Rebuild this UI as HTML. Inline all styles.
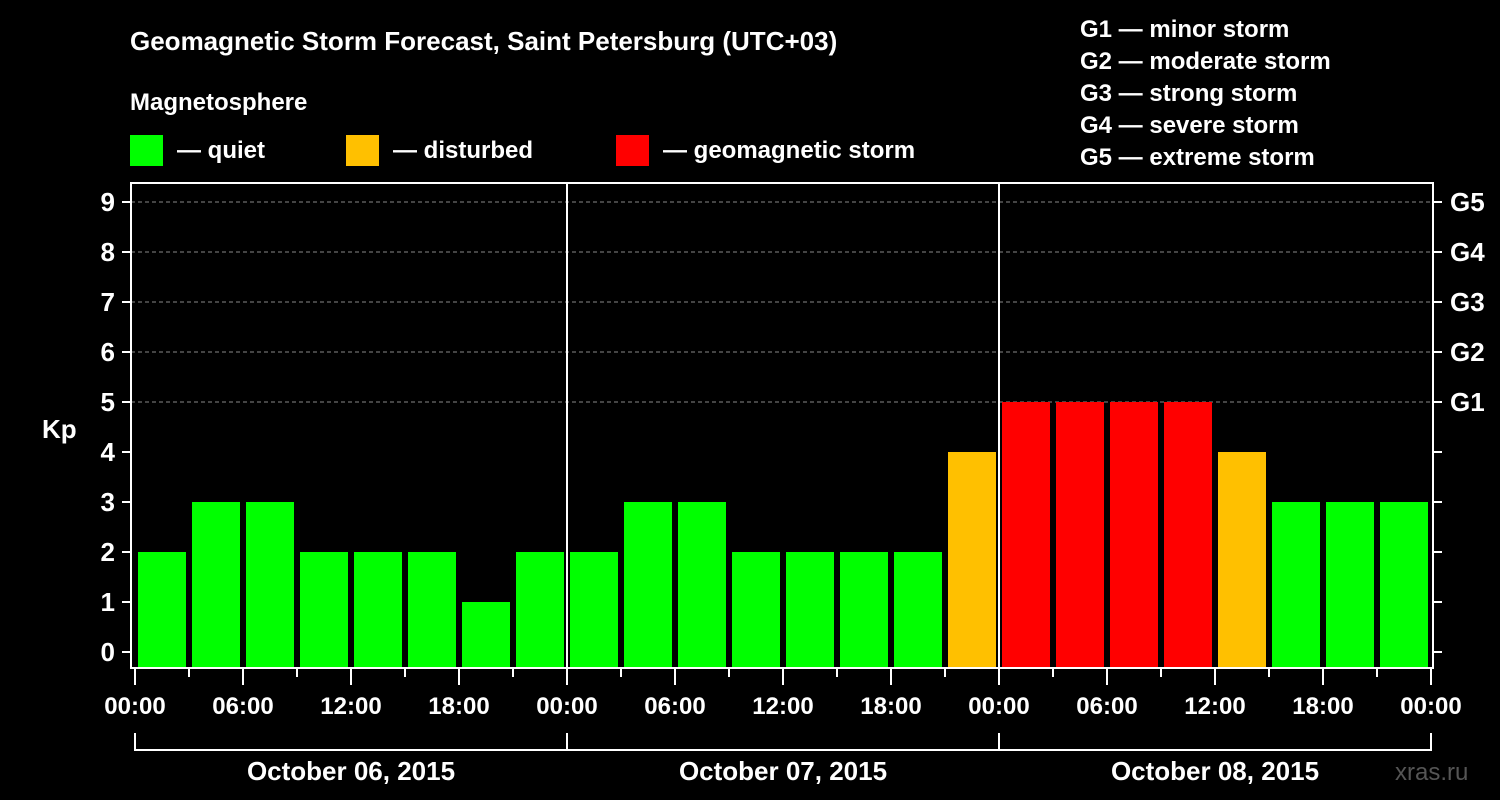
<!DOCTYPE html>
<html><head><meta charset="utf-8"><style>
html,body{margin:0;padding:0;background:#000;}
svg{display:block;font-family:"Liberation Sans",sans-serif;font-weight:bold;}
</style></head><body>
<svg id="chart" width="1500" height="800" viewBox="0 0 1500 800">
<rect width="1500" height="800" fill="#000"/>
<text x="130" y="50" fill="#fff" font-size="26">Geomagnetic Storm Forecast, Saint Petersburg (UTC+03)</text>
<text x="130" y="110" fill="#fff" font-size="24">Magnetosphere</text>
<rect x="130" y="135" width="33" height="31" fill="#00ff00"/>
<text x="177" y="158" fill="#fff" font-size="24">— quiet</text>
<rect x="346" y="135" width="33" height="31" fill="#ffc000"/>
<text x="393" y="158" fill="#fff" font-size="24">— disturbed</text>
<rect x="616" y="135" width="33" height="31" fill="#ff0000"/>
<text x="663" y="158" fill="#fff" font-size="24">— geomagnetic storm</text>
<g fill="#fff" font-size="24">
<text x="1080" y="37">G1 — minor storm</text>
<text x="1080" y="69">G2 — moderate storm</text>
<text x="1080" y="101">G3 — strong storm</text>
<text x="1080" y="133">G4 — severe storm</text>
<text x="1080" y="165">G5 — extreme storm</text>
</g>
<text x="42" y="438" fill="#fff" font-size="26">Kp</text>
<text x="1395" y="780" fill="#555" font-size="24" font-weight="normal">xras.ru</text>
<g id="grid"></g>
<g id="bars"></g>
<g id="axes"></g>
</svg>
<script>
const kpValues = [2,3,3,2,2,2,1,2, 2,3,3,2,2,2,2,4, 5,5,5,5,4,3,3,3];
const dayLabels = ["October 06, 2015","October 07, 2015","October 08, 2015"];
const hourLabels = ["00:00","06:00","12:00","18:00"];
const kpTicks = [0,1,2,3,4,5,6,7,8,9];
const gLabels = ["G1","G2","G3","G4","G5"];

const NS="http://www.w3.org/2000/svg";
const X0=135, DAYW=432, slotsPerDay=8, slotW=DAYW/slotsPerDay;
const Y0=652, UNIT=50, BOTTOM=668, TOP=183, LEFT=131, RIGHT=1433;
const xScale = h => X0 + h*DAYW/24;  // hours since start
const yScale = v => Y0 - v*UNIT;
function mk(tag, attrs, parent){const e=document.createElementNS(NS,tag);for(const k in attrs)e.setAttribute(k,attrs[k]);parent.appendChild(e);return e;}
const grid=document.getElementById('grid'), bars=document.getElementById('bars'), axes=document.getElementById('axes');

// dashed grid at 5..9
kpTicks.filter(v=>v>=5).forEach(v=>{
  const l=mk('line',{x1:LEFT,x2:RIGHT,y1:yScale(v),y2:yScale(v),stroke:'#888','stroke-dasharray':'4,3','stroke-width':1},grid);
  
  
});
// bars
kpValues.forEach((v,i)=>{
  const x=xScale(i*3)+3;
  const col = v>=5?'#ff0000':(v>=4?'#ffc000':'#00ff00');
  const r=mk('rect',{x:x,y:yScale(v),width:slotW-6,height:BOTTOM-yScale(v),fill:col},bars);
  
  
});
// frame
const fr=mk('rect',{x:LEFT,y:TOP,width:RIGHT-LEFT,height:BOTTOM-TOP,fill:'none',stroke:'#fff','stroke-width':2},axes);


// day separators
for(let d=1;d<dayLabels.length;d++){
  const l=mk('line',{x1:xScale(d*24),x2:xScale(d*24),y1:TOP,y2:BOTTOM,stroke:'#fff','stroke-width':2},axes);
  
  
}
// y ticks
kpTicks.forEach(v=>{
  const y=yScale(v);
  const t=mk('line',{x1:122,x2:LEFT,y1:y,y2:y,stroke:'#fff','stroke-width':2},axes);
  
  
  const t2=mk('line',{x1:RIGHT,x2:1442,y1:y,y2:y,stroke:'#fff','stroke-width':2},axes);
  
  
  const tx=mk('text',{x:115,y:y+9,fill:'#fff','font-size':26,'text-anchor':'end'},axes);
  tx.textContent=v;
  
  
});
gLabels.forEach((g,i)=>{
  const tx=mk('text',{x:1450,y:yScale(5+i)+9,fill:'#fff','font-size':26},axes);
  tx.textContent=g;
  
  
});
// x ticks
const totalH=dayLabels.length*24;
for(let h=0;h<=totalH;h+=3){
  const major=h%6===0;
  const t=mk('line',{x1:xScale(h),x2:xScale(h),y1:BOTTOM,y2:major?685:677,stroke:'#fff','stroke-width':2},axes);
  
  
  if(major){
    const tx=mk('text',{x:xScale(h),y:714,fill:'#fff','font-size':24,'text-anchor':'middle'},axes);
    tx.textContent=hourLabels[(h/6)%4];
    
    
  }
}
// day bracket
const br=mk('path',{d:`M${xScale(0)},733 V750 H${xScale(totalH)} V733`,fill:'none',stroke:'#fff','stroke-width':2},axes);


dayLabels.forEach((d,i)=>{
  if(i>0){const l=mk('line',{x1:xScale(i*24),x2:xScale(i*24),y1:733,y2:750,stroke:'#fff','stroke-width':2},axes);
    
    }
  const tx=mk('text',{x:xScale(i*24+12),y:780,fill:'#fff','font-size':26,'text-anchor':'middle'},axes);
  tx.textContent=d;
  
  
});
</script>
</body></html>
